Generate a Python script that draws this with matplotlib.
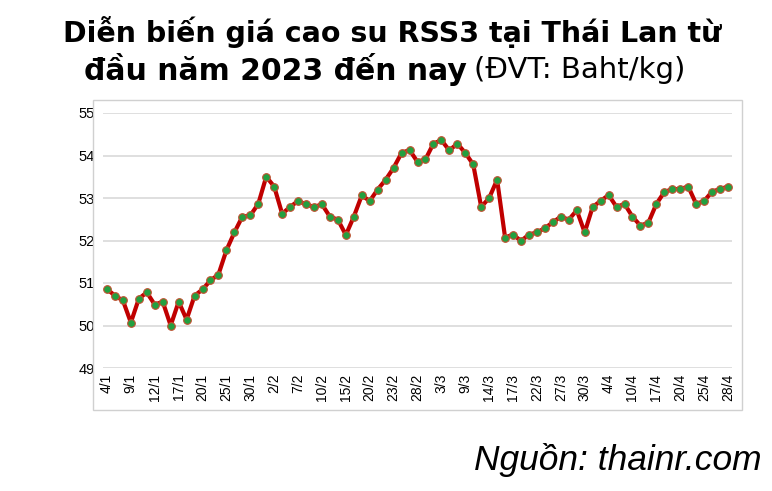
import matplotlib
matplotlib.use("Agg")
import matplotlib.pyplot as plt
from matplotlib.patches import Rectangle

values = [50.86,50.70,50.59,50.07,50.63,50.78,50.49,50.56,50.00,50.56,50.14,50.70,50.85,51.06,51.20,51.77,52.19,52.56,52.59,52.86,
          53.50,53.27,52.63,52.79,52.93,52.85,52.79,52.85,52.56,52.49,52.13,52.56,53.06,52.93,53.20,53.43,53.71,54.06,54.13,53.85,
          53.91,54.28,54.36,54.12,54.28,54.06,53.79,52.79,53.00,53.43,52.07,52.14,51.99,52.14,52.19,52.29,52.43,52.56,52.49,52.71,
          52.19,52.79,52.93,53.07,52.79,52.86,52.56,52.35,52.42,52.86,53.14,53.21,53.21,53.27,52.86,52.93,53.15,53.21,53.27]
tick_labels = ["4/1","9/1","12/1","17/1","20/1","25/1","30/1","2/2","7/2","10/2","15/2","20/2","23/2","28/2",
               "3/3","9/3","14/3","17/3","22/3","27/3","30/3","4/4","10/4","17/4","20/4","25/4","28/4"]
yticks = [49,50,51,52,53,54,55]

plt.rcParams['font.family'] = ['Liberation Sans','DejaVu Sans']
W, H = 772, 491
fig = plt.figure(figsize=(W/100, H/100), dpi=100)
fig.patches.append(Rectangle((93/W, 1-410/H), (742-93)/W, (410-100)/H, transform=fig.transFigure,
                             fill=False, edgecolor='#d0d0d0', lw=1))
ax = fig.add_axes([103/W, 1-368/H, (732-103)/W, (368-113)/H])
x = list(range(len(values)))
ax.plot(x, values, color='#c00000', lw=3, marker='o', ms=5.5, mfc='#22a040', mec='#c05030', mew=0.8, zorder=3)
ax.set_xlim(-0.5, len(values)-0.5)
ax.set_ylim(49, 55)
ax.set_yticks(yticks)
ax.set_xticks(x[::3])
ax.set_xticklabels(tick_labels, rotation=90, fontsize=10)
ax.tick_params(axis='y', labelsize=10.5, length=0, pad=6)
ax.tick_params(axis='x', length=0, pad=4)
ax.grid(axis='y', color='#d9d9d9', lw=1.2)
ax.set_axisbelow(True)
for s in ax.spines.values():
    s.set_visible(False)

fig.text(392/W, 1-32/H, "Diễn biến giá cao su RSS3 tại Thái Lan từ", ha='center', va='center',
         fontsize=20.5, fontweight='bold', family=['DejaVu Sans'])
fig.text(467/W, 1-70/H, "đầu năm 2023 đến nay", ha='right', va='center', fontsize=21.5, fontweight='bold', family=['DejaVu Sans'])
fig.text(474/W, 1-70/H, "(ĐVT: Baht/kg)", ha='left', va='center', fontsize=21, family=['DejaVu Sans'])
fig.text(762/W, 1-460/H, "Nguồn: thainr.com", ha='right', va='center', fontsize=25.5, style='italic')
fig.savefig("out.png", dpi=100)
